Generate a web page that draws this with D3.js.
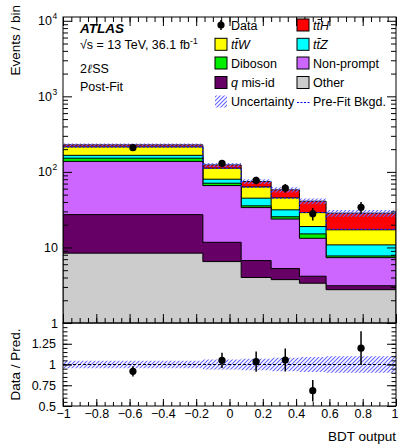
<!DOCTYPE html>
<html>
<head>
<meta charset="utf-8">
<script src="https://cdn.jsdelivr.net/npm/d3@7"></script>
<style>
  body { margin: 0; background: #fff; }
  text { font-family: "Liberation Sans", Arial, Helvetica, sans-serif; }
</style>
</head>
<body>
<script>
// bin edges in BDT output
const edges = [-1, -0.16, 0.07, 0.25, 0.42, 0.58, 1];

// post-fit yields per bin (stack order, bottom to top)
const other     = [8.4, 6.5, 4.0, 3.75, 3.36, 2.76];
const qmisid    = [18.8, 5.2, 2.7, 1.5, 0.8, 0.35];
const nonprompt = [110.5, 54.2, 27.0, 18.5, 9.05, 4.22];
const diboson   = [14.1, 4.9, 1.8, 1.7, 1.9, 0.38];
const ttZ       = [13.7, 9.2, 9.4, 6.0, 3.8, 3.1];
const ttW       = [48.8, 31.9, 18.4, 13.9, 10.0, 6.3];
const ttH       = [13.5, 11.9, 11.1, 12.5, 12.0, 11.3];

const dataVals  = [209, 130, 77, 61, 28, 34];
const dataErr   = [14, 11.5, 9, 8, 5.3, 5.8];
const relUnc    = [0.045, 0.06, 0.07, 0.08, 0.09, 0.10];
const preFitBkg = [214, 112, 63, 45, 29, 17.3];

const xMajor = [-1, -0.8, -0.6, -0.4, -0.2, 0, 0.2, 0.4, 0.6, 0.8, 1];
const ratioMajor = [0.5, 0.75, 1, 1.25, 1.5];
const ratioLabels = [0.5, 0.75, 1, 1.25];
const logMajor = [1, 10, 100, 1000, 10000];

const procs = [
  {key: "other", vals: other, color: "#cccccc"},
  {key: "qmisid", vals: qmisid, color: "#660066"},
  {key: "nonprompt", vals: nonprompt, color: "#cc66ff"},
  {key: "diboson", vals: diboson, color: "#00ee00"},
  {key: "ttZ", vals: ttZ, color: "#00ffff"},
  {key: "ttW", vals: ttW, color: "#ffff00"},
  {key: "ttH", vals: ttH, color: "#ff0000"}
];

const W = 398, H = 444;
const L = 63, R = 396, T = 17, MB = 323, RB = 406;
const hatchColor = "#6464ff";

const svg = d3.select("body").append("svg")
  .attr("width", W).attr("height", H)
  .style("background-color", "#fff");

const defs = svg.append("defs");
const pat = defs.append("pattern")
  .attr("id", "hatch").attr("patternUnits", "userSpaceOnUse")
  .attr("width", 4).attr("height", 4);
pat.append("path")
  .attr("d", "M-1,1 l2,-2 M0,4 l4,-4 M3,5 l2,-2")
  .style("stroke", hatchColor).style("stroke-width", "1.1px").style("fill", "none");
defs.append("clipPath").attr("id", "clipMain")
  .append("rect").attr("x", L).attr("y", T).attr("width", R - L).attr("height", MB - T);
defs.append("clipPath").attr("id", "clipRatio")
  .append("rect").attr("x", L).attr("y", MB).attr("width", R - L).attr("height", RB - MB);

const x = d3.scaleLinear().domain([-1, 1]).range([L, R]);
const y = d3.scaleLog().domain([1, Math.pow(10, 4.05)]).range([MB, T]);
const yr = d3.scaleLinear().domain([0.5, 1.5]).range([RB, MB]);

// stacked table
const bins = edges.slice(0, -1).map((e, i) => {
  const row = {i: i};
  procs.forEach(p => row[p.key] = p.vals[i]);
  return row;
});
const stacked = d3.stack().keys(procs.map(p => p.key))(bins);
const total = bins.map((b, i) => stacked[stacked.length - 1][i][1]);

function stepPoints(vals) {
  const pts = [];
  vals.forEach((v, i) => {
    pts.push([edges[i], v]);
    pts.push([edges[i + 1], v]);
  });
  return pts;
}

const main = svg.append("g").attr("clip-path", "url(#clipMain)");

// draw cumulative histograms from the top down, like THStack
for (let k = stacked.length - 1; k >= 0; k--) {
  const tops = stacked[k].map(d => d[1]);
  const area = d3.area()
    .x(d => x(d[0]))
    .y0(MB + 2)
    .y1(d => y(d[1]));
  main.append("path")
    .datum(stepPoints(tops))
    .attr("d", area)
    .attr("fill", procs[k].color)
    .attr("stroke", "#000")
    .attr("stroke-width", 1);
}

// uncertainty band on the total
const bandPts = [];
total.forEach((t, i) => {
  bandPts.push([edges[i], t, relUnc[i]]);
  bandPts.push([edges[i + 1], t, relUnc[i]]);
});
main.append("path").datum(bandPts)
  .attr("d", d3.area()
    .x(d => x(d[0]))
    .y0(d => y(d[1] * (1 - d[2])))
    .y1(d => y(d[1] * (1 + d[2]))))
  .attr("fill", "url(#hatch)");

// pre-fit background
main.append("path")
  .datum(stepPoints(preFitBkg))
  .attr("d", d3.line().x(d => x(d[0])).y(d => y(d[1])))
  .attr("fill", "none").style("stroke", "#2020ff")
  .attr("stroke-width", 1.2).attr("stroke-dasharray", "2,2");

// data points
const centers = edges.slice(0, -1).map((e, i) => (e + edges[i + 1]) / 2);
const dataG = svg.append("g");
dataVals.forEach((v, i) => {
  dataG.append("line")
    .attr("x1", x(centers[i])).attr("x2", x(centers[i]))
    .attr("y1", y(v + dataErr[i])).attr("y2", y(v - dataErr[i]))
    .attr("stroke", "#000").attr("stroke-width", 1.5);
  dataG.append("circle")
    .attr("cx", x(centers[i])).attr("cy", y(v)).attr("r", 3.6).attr("fill", "#000");
});

// ratio panel
const ratioG = svg.append("g").attr("clip-path", "url(#clipRatio)");
ratioG.append("path").datum(bandPts)
  .attr("d", d3.area()
    .x(d => x(d[0]))
    .y0(d => yr(1 - d[2]))
    .y1(d => yr(1 + d[2])))
  .attr("fill", "url(#hatch)");
ratioG.append("line")
  .attr("x1", L).attr("x2", R).attr("y1", yr(1)).attr("y2", yr(1))
  .attr("stroke", "#000").attr("stroke-width", 1).attr("stroke-dasharray", "3,2");
dataVals.forEach((v, i) => {
  const r = v / total[i];
  const e = dataErr[i] / total[i];
  ratioG.append("line")
    .attr("x1", x(centers[i])).attr("x2", x(centers[i]))
    .attr("y1", yr(r + e)).attr("y2", yr(r - e))
    .attr("stroke", "#000").attr("stroke-width", 1.5);
  ratioG.append("circle")
    .attr("cx", x(centers[i])).attr("cy", yr(r)).attr("r", 3.6).attr("fill", "#000");
});

// frames
svg.append("rect").attr("x", L).attr("y", T).attr("width", R - L).attr("height", MB - T)
  .attr("fill", "none").attr("stroke", "#000").attr("stroke-width", 1);
svg.append("rect").attr("x", L).attr("y", MB).attr("width", R - L).attr("height", RB - MB)
  .attr("fill", "none").attr("stroke", "#000").attr("stroke-width", 1);

// axes and ticks
const xMinor = d3.range(-1, 1.0001, 0.05);
function tickAxis(axis, tx, ty) {
  const g = svg.append("g").attr("transform", `translate(${tx},${ty})`).call(axis);
  g.select(".domain").remove();
  g.selectAll("line").attr("stroke", "#000");
  g.selectAll("text").attr("font-size", "12.5px").attr("fill", "#000")
    .attr("font-family", "Liberation Sans, Arial, sans-serif");
  return g;
}
const fmtX = d => {
  const v = Math.round(d * 10) / 10;
  return v < 0 ? "\u2212" + Math.abs(v) : String(v);
};

// main panel x ticks (bottom and top)
tickAxis(d3.axisBottom(x).tickValues(xMajor).tickSize(-9).tickFormat(""), 0, MB);
tickAxis(d3.axisBottom(x).tickValues(xMinor).tickSize(-5).tickFormat(""), 0, MB);
tickAxis(d3.axisTop(x).tickValues(xMajor).tickSize(-9).tickFormat(""), 0, T);
tickAxis(d3.axisTop(x).tickValues(xMinor).tickSize(-5).tickFormat(""), 0, T);

// main panel y ticks
const logMinor = [];
logMajor.forEach(d => {
  for (let m = 2; m <= 9; m++) if (d * m <= y.domain()[1]) logMinor.push(d * m);
});
tickAxis(d3.axisLeft(y).tickValues(logMajor).tickSize(-9).tickFormat(""), L, 0);
tickAxis(d3.axisLeft(y).tickValues(logMinor).tickSize(-5).tickFormat(""), L, 0);
tickAxis(d3.axisRight(y).tickValues(logMajor).tickSize(-9).tickFormat(""), R, 0);
tickAxis(d3.axisRight(y).tickValues(logMinor).tickSize(-5).tickFormat(""), R, 0);

const yLabels = svg.append("g");
logMajor.forEach(v => {
  const t = yLabels.append("text")
    .attr("x", v >= 100 ? 52 : 58).attr("y", y(v) + 4.5)
    .attr("text-anchor", "end").attr("font-size", "12.5px");
  if (v < 100) {
    t.text(String(v));
  } else {
    t.text("10");
    yLabels.append("text")
      .attr("x", 52.5).attr("y", y(v) - 1.5)
      .attr("font-size", "8.5px")
      .text(String(Math.round(Math.log10(v))));
  }
});

// ratio panel ticks
const rMinor = d3.range(0.5, 1.5001, 0.05);
const xLab = tickAxis(d3.axisBottom(x).tickValues(xMajor).tickSize(-7).tickPadding(3).tickFormat(fmtX), 0, RB);
xLab.selectAll("text").filter(d => d === 1).attr("dx", -1.5);
tickAxis(d3.axisBottom(x).tickValues(xMinor).tickSize(-4).tickFormat(""), 0, RB);
tickAxis(d3.axisLeft(yr).tickValues(ratioMajor).tickSize(-9).tickPadding(7)
  .tickFormat(d => ratioLabels.includes(d) ? String(d) : ""), L, 0);
tickAxis(d3.axisLeft(yr).tickValues(rMinor).tickSize(-4.5).tickFormat(""), L, 0);
tickAxis(d3.axisRight(yr).tickValues(ratioMajor).tickSize(-9).tickFormat(""), R, 0);
tickAxis(d3.axisRight(yr).tickValues(rMinor).tickSize(-4.5).tickFormat(""), R, 0);

// axis titles
svg.append("text")
  .attr("transform", "translate(20,5) rotate(-90)")
  .attr("text-anchor", "end").attr("font-size", "13.5px")
  .text("Events / bin");
svg.append("text")
  .attr("transform", `translate(20,${(MB + RB) / 2}) rotate(-90)`)
  .attr("text-anchor", "middle").attr("font-size", "13.5px")
  .text("Data / Pred.");
svg.append("text")
  .attr("x", R).attr("y", 441)
  .attr("text-anchor", "end").attr("font-size", "13.5px")
  .text("BDT output");

// ATLAS label
const lab = svg.append("g");
lab.append("text").attr("x", 80).attr("y", 33)
  .attr("font-size", "13.5px").attr("font-weight", "bold").attr("font-style", "italic")
  .text("ATLAS");
const sq = lab.append("text").attr("x", 80).attr("y", 49).attr("font-size", "12.5px");
sq.append("tspan").text("\u221As = 13 TeV, 36.1 fb");
sq.append("tspan").attr("font-size", "8.5px").attr("dy", -5).text("-1");
const ch = lab.append("text").attr("x", 80).attr("y", 72.5).attr("font-size", "12.5px");
ch.append("tspan").text("2");
ch.append("tspan").attr("font-family", "DejaVu Serif").attr("font-style", "italic").text("\u2113");
ch.append("tspan").text("SS");
lab.append("text").attr("x", 80).attr("y", 91).attr("font-size", "12.5px").text("Post-Fit");

// legend
const leg = svg.append("g");
const rows = [25, 44.3, 63, 82.5, 101.5];
const col1 = 215, col2 = 297, bw = 12;

function addLabel(g, tx, ty, parts) {
  const t = g.append("text").attr("x", tx).attr("y", ty + 4.5).attr("font-size", "12.5px");
  parts.forEach(p => {
    const s = t.append("tspan").text(p[0]);
    if (p[1]) s.attr("font-style", "italic");
  });
}
function addBox(cx, cy, color) {
  leg.append("rect").attr("x", cx).attr("y", cy - bw / 2).attr("width", bw).attr("height", bw)
    .attr("fill", color).attr("stroke", "#000").attr("stroke-width", 1);
}
// Data
leg.append("line").attr("x1", col1 + 6).attr("x2", col1 + 6)
  .attr("y1", rows[0] - 5).attr("y2", rows[0] + 5).attr("stroke", "#000").attr("stroke-width", 1.5);
leg.append("circle").attr("cx", col1 + 6).attr("cy", rows[0]).attr("r", 3.6).attr("fill", "#000");
addLabel(leg, col1 + 16, rows[0], [["Data", false]]);

const colorOf = {};
procs.forEach(p => colorOf[p.key] = p.color);
const legendItems = [
  {key: "ttH", col: col2, row: 0, parts: [["tt\u0304H", true]]},
  {key: "ttW", col: col1, row: 1, parts: [["tt\u0304W", true]]},
  {key: "ttZ", col: col2, row: 1, parts: [["tt\u0304Z", true]]},
  {key: "diboson", col: col1, row: 2, parts: [["Diboson", false]]},
  {key: "nonprompt", col: col2, row: 2, parts: [["Non-prompt", false]]},
  {key: "qmisid", col: col1, row: 3, parts: [["q", true], [" mis-id", false]]},
  {key: "other", col: col2, row: 3, parts: [["Other", false]]}
];
legendItems.forEach(it => {
  addBox(it.col, rows[it.row], colorOf[it.key]);
  addLabel(leg, it.col + 16, rows[it.row], it.parts);
});
leg.append("rect").attr("x", col1).attr("y", rows[4] - 6).attr("width", bw).attr("height", bw)
  .attr("fill", "url(#hatch)");
addLabel(leg, col1 + 16, rows[4], [["Uncertainty", false]]);
leg.append("line").attr("x1", col2).attr("x2", col2 + 13)
  .attr("y1", Math.round(rows[4]) + 0.5).attr("y2", Math.round(rows[4]) + 0.5)
  .style("stroke", "#0000ff").attr("stroke-width", 1).attr("stroke-dasharray", "2,1.5");
addLabel(leg, col2 + 16, rows[4], [["Pre-Fit Bkgd.", false]]);
</script>
</body>
</html>
